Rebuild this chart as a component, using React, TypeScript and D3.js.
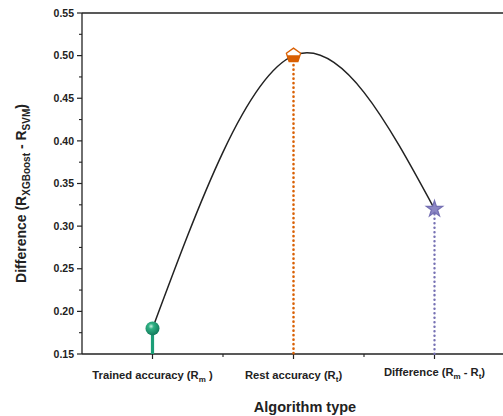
import React from "react";
import * as d3 from "d3";

const categories = ["Trained accuracy", "Rest accuracy", "Difference"];
const catPositions = [1, 2, 3];
const values = [0.18, 0.5, 0.32];
const colors = ["#1b9e77", "#d95f02", "#7570b3"];
const yTicks = [0.15, 0.2, 0.25, 0.3, 0.35, 0.4, 0.45, 0.5, 0.55];
const yMinorTicks = [0.175, 0.225, 0.275, 0.325, 0.375, 0.425, 0.475, 0.525];
const xMinorTicks = [1.5, 2.5];

const W = 503, H = 416;
const margin = { left: 82, top: 13, bottom: 354 };

export default function App() {
  const x = d3.scaleLinear().domain([0.5, 3.5]).range([margin.left, margin.left + 3 * 141]);
  const y = d3.scaleLinear().domain([0.15, 0.55]).range([margin.bottom, margin.top]);
  const pts: [number, number][] = catPositions.map((c, i) => [x(c), y(values[i])]);
  const line = d3.line().curve(d3.curveNatural)(pts) || "";
  const font = "Arial, 'Liberation Sans', sans-serif";
  const star = d3.symbol().type(d3.symbolStar).size(80)() || "";
  const pentagon = (r: number) => {
    const p = d3.range(5).map((k) => {
      const a = -Math.PI / 2 + (k * 2 * Math.PI) / 5;
      return [r * Math.cos(a), r * Math.sin(a)];
    });
    return "M" + p.map((q) => q.join(",")).join("L") + "Z";
  };
  const labelY = 379;
  return (
    <svg width={W} height={H} style={{ position: "absolute", left: 0, top: 0, background: "#fff" }} fontFamily={font}>
      <defs>
        <radialGradient id="ball" cx="0.4" cy="0.35" r="0.65">
          <stop offset="0" stopColor="#c8f0e0" />
          <stop offset="0.3" stopColor="#2fb083" />
          <stop offset="1" stopColor="#137a5c" />
        </radialGradient>
        <clipPath id="pbot">
          <rect x={-10} y={-0.5} width={20} height={12} />
        </clipPath>
      </defs>
      {/* axes */}
      <line x1={margin.left} x2={W} y1={margin.top} y2={margin.top} stroke="#222" strokeWidth={1.3} />
      <line x1={margin.left} x2={W} y1={margin.bottom} y2={margin.bottom} stroke="#222" strokeWidth={1.3} />
      <line x1={margin.left} x2={margin.left} y1={margin.top} y2={margin.bottom} stroke="#222" strokeWidth={1.3} />
      {yTicks.map((t) => (
        <g key={"y" + t}>
          <line x1={margin.left - 5} x2={margin.left} y1={y(t)} y2={y(t)} stroke="#222" strokeWidth={1.2} />
          <text x={margin.left - 8} y={y(t)} dy="0.35em" textAnchor="end" fontSize={10.5} fontWeight="bold" fill="#222">
            {t.toFixed(2)}
          </text>
        </g>
      ))}
      {yMinorTicks.map((t) => (
        <line key={"ym" + t} x1={margin.left - 3} x2={margin.left} y1={y(t)} y2={y(t)} stroke="#222" strokeWidth={1.1} />
      ))}
      {catPositions.map((c) => (
        <line key={"xt" + c} x1={x(c)} x2={x(c)} y1={margin.bottom} y2={margin.bottom + 5} stroke="#222" strokeWidth={1.2} />
      ))}
      {xMinorTicks.map((c) => (
        <line key={"xm" + c} x1={x(c)} x2={x(c)} y1={margin.bottom} y2={margin.bottom + 3} stroke="#222" strokeWidth={1.1} />
      ))}
      {/* drop lines */}
      <line x1={x(1)} x2={x(1)} y1={y(values[0])} y2={margin.bottom} stroke={colors[0]} strokeWidth={3.2} />
      <line x1={x(2)} x2={x(2)} y1={y(values[1]) + 5} y2={margin.bottom} stroke={colors[1]} strokeWidth={2.6} strokeDasharray="0.1,4.4" strokeLinecap="round" />
      <line x1={x(3)} x2={x(3)} y1={y(values[2]) + 5} y2={margin.bottom} stroke={colors[2]} strokeWidth={2.4} strokeDasharray="0.1,4.4" strokeLinecap="round" />
      {/* curve */}
      <path d={line} fill="none" stroke="#222" strokeWidth={1.5} />
      {/* markers */}
      <circle cx={pts[0][0]} cy={pts[0][1]} r={7} fill="url(#ball)" />
      <g transform={`translate(${pts[1][0]},${pts[1][1]})`}>
        <path d={pentagon(7.5)} fill="#fff" stroke={colors[1]} strokeWidth={1.3} />
        <path d={pentagon(7.5)} fill={colors[1]} clipPath="url(#pbot)" />
      </g>
      <g transform={`translate(${pts[2][0]},${pts[2][1]})`}>
        <path d={star} fill="#8c87c4" stroke={colors[2]} strokeWidth={1.3} />
      </g>
      {/* category labels */}
      <text x={x(1)} y={labelY} textAnchor="middle" fontSize={11.2} fontWeight="bold" fill="#222">
        {categories[0]} (R<tspan dy={3} fontSize={8}>m</tspan><tspan dy={-3}> )</tspan>
      </text>
      <text x={x(2)} y={labelY} textAnchor="middle" fontSize={11.2} fontWeight="bold" fill="#222">
        {categories[1]} (R<tspan dy={3} fontSize={8}>t</tspan><tspan dy={-3}>)</tspan>
      </text>
      <text x={x(3)} y={labelY - 3} textAnchor="middle" fontSize={11.2} fontWeight="bold" fill="#222">
        {categories[2]} (R<tspan dy={3} fontSize={8}>m</tspan><tspan dy={-3}> - R</tspan><tspan dy={3} fontSize={8}>t</tspan><tspan dy={-3}>)</tspan>
      </text>
      {/* axis titles */}
      <text x={305} y={412} textAnchor="middle" fontSize={14.5} fontWeight="bold" fill="#222">Algorithm type</text>
      <text transform={`translate(26,${(margin.top + margin.bottom) / 2 + 10}) rotate(-90)`} textAnchor="middle" fontSize={14} fontWeight="bold" fill="#222">
        Difference (R<tspan dy={4} fontSize={10}>XGBoost</tspan><tspan dy={-4}> - R</tspan><tspan dy={4} fontSize={10}>SVM</tspan><tspan dy={-4}>)</tspan>
      </text>
    </svg>
  );
}
